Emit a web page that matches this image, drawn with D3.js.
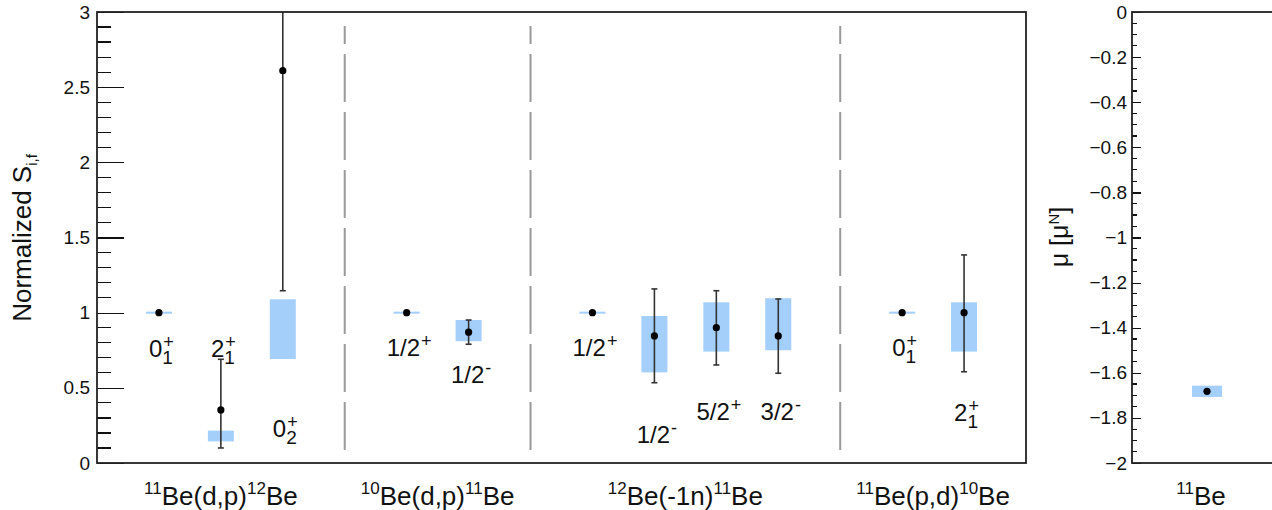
<!DOCTYPE html>
<html>
<head>
<meta charset="utf-8">
<script src="https://cdn.jsdelivr.net/npm/d3@7"></script>
<style>
  body { margin: 0; background: #fff; }
  text { font-family: "Liberation Sans", Arial, Helvetica, sans-serif; fill: #111; }
</style>
</head>
<body>
<div id="chart"></div>
<script>
// reactions (groups along the x axis)
var reactionMassIn  = ["11", "10", "12", "11"];
var reactionBody    = ["Be(d,p)", "Be(d,p)", "Be(-1n)", "Be(p,d)"];
var reactionMassOut = ["12", "11", "11", "10"];

// final states, one per column
var stateGroup = [0, 0, 0, 1, 1, 2, 2, 2, 2, 3, 3];
var stateMain  = ["0", "2", "0", "1/2", "1/2", "1/2", "1/2", "5/2", "3/2", "0", "2"];
var stateSup   = ["+", "+", "+", "+", "-", "+", "-", "+", "-", "+", "+"];
var stateSub   = ["1", "1", "2", "", "", "", "", "", "", "1", "1"];

// normalized spectroscopic factors
var sValue = [1.0, 0.353, 2.61, 1.0, 0.87, 1.0, 0.845, 0.90, 0.845, 1.0, 1.0];
var errLo  = [null, 0.10, 1.146, null, 0.79, null, 0.534, 0.652, 0.597, null, 0.607];
var errHi  = [null, 0.69, 4.07, null, 0.951, null, 1.158, 1.146, 1.091, null, 1.384];
var boxLo  = [1.0, 0.144, 0.692, 1.0, 0.81, 1.0, 0.603, 0.741, 0.75, 1.0, 0.741];
var boxHi  = [1.0, 0.215, 1.089, 1.0, 0.951, 1.0, 0.978, 1.069, 1.096, 1.0, 1.069];
// where the state label sits (in S units)
var labelAt = [0.705, 0.705, 0.173, 0.712, 0.532, 0.712, 0.135, 0.286, 0.286, 0.712, 0.28];

var yTicks = [0, 0.5, 1, 1.5, 2, 2.5, 3];
var yTickLabels = ["0", "0.5", "1", "1.5", "2", "2.5", "3"];

// magnetic moment panel
var muNucleus = "Be", muMass = "11";
var muValue = -1.682, muLo = -1.707, muHi = -1.657;
var muTicks = [0, -0.2, -0.4, -0.6, -0.8, -1, -1.2, -1.4, -1.6, -1.8, -2];
var muTickLabels = ["0", "\u22120.2", "\u22120.4", "\u22120.6", "\u22120.8", "\u22121",
                    "\u22121.2", "\u22121.4", "\u22121.6", "\u22121.8", "\u22122"];

var blue = "#a3cffa", barColor = "#333";

var margin = {top: 12, bottom: 47},
    height = 510 - margin.top - margin.bottom;

var svg = d3.select("#chart").append("svg")
    .attr("width", 1272).attr("height", 510);

// column slots: one per state, plus a separator slot between reactions
var slot = [], sepSlots = [], s = 0;
stateGroup.forEach(function(g, i) {
  if (i > 0 && g !== stateGroup[i - 1]) sepSlots.push(++s);
  slot.push(++s);
});
var nSlots = s + 1;

var x = d3.scaleLinear().domain([0, nSlots]).range([97, 1026]);
var y = d3.scaleLinear().domain([0, 3]).range([margin.top + height, margin.top]);

svg.append("clipPath").attr("id", "clipL")
  .append("rect").attr("x", x(0)).attr("y", y(3)).attr("width", x(nSlots) - x(0)).attr("height", height);

function styleAxis(g) {
  g.selectAll(".domain").remove();
  g.selectAll("line").attr("stroke", "#111").attr("stroke-width", 1.2)
    .attr("shape-rendering", "crispEdges");
  g.selectAll("text").style("font-size", "19px").style("font-family", null).attr("fill", "#111");
}

// minor ticks drawn by hand, major ticks + labels from the axis
var minorY = d3.range(0, 31).map(function(k) { return k / 10; })
  .filter(function(v) { return yTicks.indexOf(v) < 0; });
svg.append("g").selectAll("line").data(minorY).enter().append("line")
  .attr("x1", x(0)).attr("x2", x(0) + 14)
  .attr("y1", function(d) { return y(d); }).attr("y2", function(d) { return y(d); })
  .attr("stroke", "#111").attr("stroke-width", 1.2).attr("shape-rendering", "crispEdges");
svg.append("g").attr("transform", "translate(" + x(0) + ",0)")
  .call(d3.axisLeft(y).tickValues(yTicks).tickSize(-27).tickPadding(7)
    .tickFormat(function(d, i) { return yTickLabels[i]; }))
  .call(styleAxis);

// y title
var yt = svg.append("text")
  .attr("transform", "translate(31," + 238 + ") rotate(-90)")
  .attr("text-anchor", "middle").style("font-size", "26px");
yt.append("tspan").text("Normalized S");
yt.append("tspan").attr("dy", 6).style("font-size", "15px").text("i,f");

// dashed separators
svg.selectAll(".sep").data(sepSlots).enter().append("line")
  .attr("x1", function(d) { return x(d); }).attr("x2", function(d) { return x(d); })
  .attr("y1", y(0.086)).attr("y2", y(2.907))
  .attr("stroke", "#999").attr("stroke-width", 2).attr("stroke-dasharray", "48,10");

var plot = svg.append("g").attr("clip-path", "url(#clipL)");

// blue boxes
plot.selectAll(".box").data(sValue).enter().append("rect")
  .attr("x", function(d, i) { return x(slot[i]) - 13; })
  .attr("width", 26)
  .attr("y", function(d, i) { return y(boxHi[i]) - (boxHi[i] === boxLo[i] ? 1 : 0); })
  .attr("height", function(d, i) { return Math.max(y(boxLo[i]) - y(boxHi[i]), 2); })
  .attr("fill", blue);

// error bars
var eb = sValue.map(function(d, i) { return i; }).filter(function(i) { return errLo[i] !== null; });
plot.selectAll(".err").data(eb).enter().append("line")
  .attr("x1", function(i) { return x(slot[i]); }).attr("x2", function(i) { return x(slot[i]); })
  .attr("y1", function(i) { return y(errLo[i]); }).attr("y2", function(i) { return y(errHi[i]); })
  .attr("stroke", barColor).attr("stroke-width", 1.6);
["lo", "hi"].forEach(function(k) {
  plot.selectAll(".cap" + k).data(eb).enter().append("line")
    .attr("x1", function(i) { return x(slot[i]) - 3; }).attr("x2", function(i) { return x(slot[i]) + 3; })
    .attr("y1", function(i) { return y(k === "lo" ? errLo[i] : errHi[i]); })
    .attr("y2", function(i) { return y(k === "lo" ? errLo[i] : errHi[i]); })
    .attr("stroke", barColor).attr("stroke-width", 1.6);
});

// points
plot.selectAll(".pt").data(sValue).enter().append("circle")
  .attr("cx", function(d, i) { return x(slot[i]); })
  .attr("cy", function(d) { return y(d); })
  .attr("r", 3.6).attr("fill", "#000");

// state labels, e.g. 0+ with subscript 1 stacked under the +
sValue.forEach(function(d, i) {
  var g = svg.append("g");
  var t = g.append("text").style("font-size", "24px").text(stateMain[i]);
  var w = t.node().getComputedTextLength();
  var sw = 0;
  if (stateSup[i]) {
    var sp = g.append("text").attr("x", w + 1).attr("y", -9).style("font-size", "18px").text(stateSup[i]);
    sw = sp.node().getComputedTextLength();
  }
  if (stateSub[i]) {
    var sb = g.append("text").attr("x", w).attr("y", 7).style("font-size", "19px").text(stateSub[i]);
    sw = Math.max(sw, sb.node().getComputedTextLength());
  }
  g.attr("transform", "translate(" + (x(slot[i]) + 2 - (w + sw) / 2) + "," + y(labelAt[i]) + ")");
});

// reaction labels under each group
reactionBody.forEach(function(b, gi) {
  var cols = slot.filter(function(sl, i) { return stateGroup[i] === gi; });
  var cx = (x(d3.min(cols)) + x(d3.max(cols))) / 2;
  var t = svg.append("text").attr("x", cx).attr("y", 505)
    .attr("text-anchor", "middle").style("font-size", "26px");
  t.append("tspan").attr("dy", -11).style("font-size", "17px").text(reactionMassIn[gi]);
  t.append("tspan").attr("dy", 11).text(b);
  t.append("tspan").attr("dy", -11).style("font-size", "17px").text(reactionMassOut[gi]);
  t.append("tspan").attr("dy", 11).text("Be");
});

// frame
svg.append("rect").attr("x", x(0)).attr("y", y(3))
  .attr("width", x(nSlots) - x(0)).attr("height", height)
  .attr("fill", "none").attr("stroke", "#222").attr("stroke-width", 1.8);

// ---- magnetic moment panel ----
var x2 = d3.scaleLinear().domain([0, 1]).range([1132, 1282]);
var y2 = d3.scaleLinear().domain([-2, 0]).range([margin.top + height, margin.top]);

var minorMu = d3.range(0, 41).filter(function(k) { return k % 4 !== 0; })
  .map(function(k) { return -k * 0.05; });
svg.append("g").selectAll("line").data(minorMu).enter().append("line")
  .attr("x1", x2(0)).attr("x2", x2(0) + 5)
  .attr("y1", function(d) { return y2(d); }).attr("y2", function(d) { return y2(d); })
  .attr("stroke", "#111").attr("stroke-width", 1.2).attr("shape-rendering", "crispEdges");
svg.append("g").attr("transform", "translate(" + x2(0) + ",0)")
  .call(d3.axisLeft(y2).tickValues(muTicks).tickSize(-9).tickPadding(5)
    .tickFormat(function(d, i) { return muTickLabels[i]; }))
  .call(styleAxis);

var mt = svg.append("text")
  .attr("transform", "translate(1068," + 237 + ") rotate(-90)")
  .attr("text-anchor", "middle").style("font-size", "25px");
mt.append("tspan").text("\u03bc [\u03bc");
mt.append("tspan").attr("dy", -9).style("font-size", "15px").text("N");
mt.append("tspan").attr("dy", 9).text("]");

svg.append("rect")
  .attr("x", x2(0.5) - 15).attr("width", 30)
  .attr("y", y2(muHi)).attr("height", y2(muLo) - y2(muHi))
  .attr("fill", blue);
svg.append("circle").attr("cx", x2(0.5)).attr("cy", y2(muValue)).attr("r", 3.6).attr("fill", "#000");

var bt = svg.append("text").attr("x", x2(0.5) - 6).attr("y", 505)
  .attr("text-anchor", "middle").style("font-size", "26px");
bt.append("tspan").attr("dy", -11).style("font-size", "17px").text(muMass);
bt.append("tspan").attr("dy", 11).text(muNucleus);

svg.append("rect").attr("x", x2(0)).attr("y", y2(0))
  .attr("width", x2(1) - x2(0)).attr("height", height)
  .attr("fill", "none").attr("stroke", "#222").attr("stroke-width", 1.8);
</script>
</body>
</html>
